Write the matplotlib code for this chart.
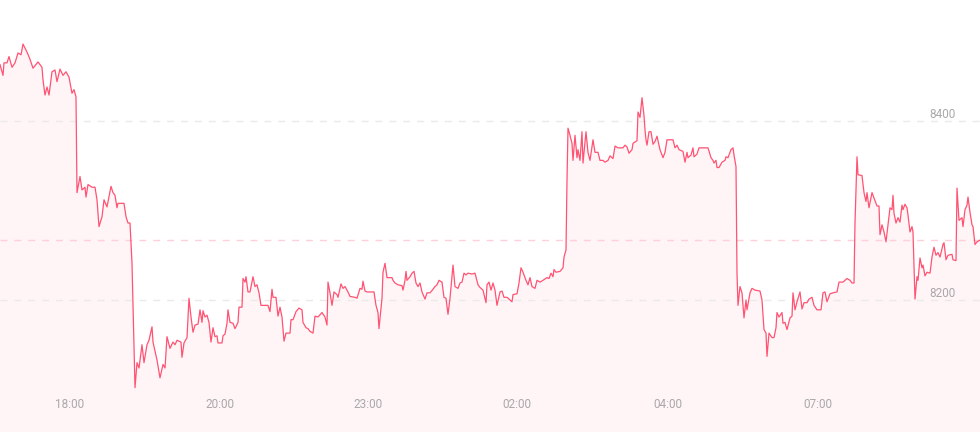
import matplotlib
matplotlib.use("Agg")
import matplotlib.pyplot as plt
from matplotlib.transforms import blended_transform_factory

# ---- data -----------------------------------------------------------------
t = [0, 3, 4, 7, 9, 12, 15, 18, 21, 23, 27, 30, 33, 38, 42, 43, 45, 47, 49, 52,
     55, 57, 60, 63, 66, 69, 72, 74, 76, 77, 80, 82, 85, 86, 88, 92, 95, 97, 99, 102,
     104, 107, 111, 113, 115, 117, 118, 124, 126, 128, 130, 132, 135, 137, 139, 142, 144, 147, 149, 152,
     153, 157, 160, 163, 165, 167, 170, 173, 175, 177, 181, 182, 184, 187, 189, 191, 193, 195, 198, 200,
     202, 203, 205, 207, 209, 211, 213, 215, 217, 218, 222, 223, 225, 227, 228, 230, 233, 235, 238, 239,
     242, 243, 245, 246, 248, 250, 253, 255, 257, 259, 261, 267, 268, 270, 272, 273, 276, 278, 280, 282,
     284, 286, 290, 291, 293, 296, 299, 302, 303, 306, 308, 310, 313, 315, 318, 322, 325, 327, 328, 330,
     332, 334, 337, 338, 341, 343, 345, 348, 350, 355, 357, 360, 362, 363, 365, 367, 374, 376, 378, 379,
     382, 383, 385, 387, 392, 393, 395, 398, 402, 403, 405, 406, 407, 410, 412, 414, 416, 418, 420, 422,
     425, 427, 430, 433, 435, 437, 439, 442, 444, 446, 448, 450, 452, 453, 455, 458, 460, 462, 464, 466,
     468, 472, 475, 478, 480, 483, 486, 487, 489, 491, 493, 495, 497, 500, 502, 504, 507, 510, 512, 513,
     517, 519, 521, 523, 526, 528, 530, 532, 535, 537, 540, 543, 547, 549, 551, 553, 554, 556, 560, 563,
     564, 566, 567, 568, 570, 572, 573, 575, 577, 578, 580, 582, 583, 586, 588, 590, 593, 595, 598, 600,
     603, 605, 608, 610, 613, 615, 618, 623, 625, 627, 629, 632, 633, 637, 638, 640, 642, 644, 645, 646,
     647, 649, 651, 653, 655, 657, 660, 663, 665, 667, 673, 675, 677, 679, 683, 685, 687, 688, 691, 693,
     694, 697, 699, 708, 711, 713, 714, 716, 717, 719, 722, 725, 726, 728, 731, 733, 734, 736, 737, 738,
     740, 742, 744, 746, 747, 750, 752, 755, 760, 762, 764, 766, 767, 769, 772, 774, 776, 777, 779, 782,
     783, 785, 787, 790, 792, 793, 795, 797, 800, 802, 804, 807, 809, 812, 814, 817, 821, 823, 825, 827,
     830, 833, 837, 839, 843, 847, 850, 852, 854, 855, 857, 858, 862, 864, 866, 867, 869, 872, 874, 877,
     879, 880, 882, 884, 886, 888, 890, 892, 893, 894, 896, 898, 900, 902, 903, 905, 907, 908, 910, 912,
     913, 915, 917, 918, 920, 922, 923, 925, 927, 930, 932, 934, 936, 938, 940, 943, 944, 946, 948, 952,
     953, 956, 957, 959, 962, 963, 965, 967, 968, 970, 972, 973, 975, 977, 980]

price = [8463, 8451, 8465, 8465, 8472, 8460, 8465, 8476, 8474, 8486, 8477, 8469, 8459, 8466, 8460, 8446, 8429, 8438, 8429, 8455,
         8457, 8444, 8458, 8451, 8455, 8449, 8431, 8435, 8427, 8320, 8338, 8323, 8326, 8315, 8329, 8326, 8326, 8312, 8282, 8293,
         8312, 8304, 8327, 8320, 8317, 8303, 8308, 8308, 8293, 8286, 8286, 8241, 8102, 8130, 8124, 8150, 8130, 8150, 8155, 8170,
         8153, 8133, 8113, 8128, 8124, 8159, 8146, 8153, 8150, 8155, 8153, 8136, 8152, 8158, 8202, 8181, 8164, 8172, 8173, 8189,
         8175, 8188, 8181, 8183, 8175, 8153, 8169, 8159, 8160, 8152, 8152, 8160, 8162, 8174, 8189, 8175, 8174, 8168, 8175, 8192,
         8192, 8224, 8220, 8226, 8209, 8209, 8226, 8215, 8217, 8208, 8194, 8194, 8194, 8187, 8212, 8203, 8203, 8182, 8192, 8181,
         8154, 8163, 8163, 8178, 8178, 8187, 8191, 8189, 8175, 8169, 8168, 8165, 8163, 8182, 8181, 8186, 8181, 8172, 8220, 8208,
         8194, 8209, 8206, 8203, 8218, 8213, 8215, 8209, 8204, 8203, 8202, 8213, 8212, 8221, 8210, 8209, 8209, 8194, 8186, 8168,
         8202, 8231, 8241, 8225, 8225, 8222, 8219, 8217, 8216, 8211, 8222, 8232, 8222, 8226, 8230, 8232, 8219, 8215, 8219, 8209,
         8201, 8208, 8208, 8212, 8215, 8217, 8222, 8220, 8203, 8202, 8184, 8202, 8226, 8239, 8215, 8213, 8219, 8220, 8230, 8228,
         8230, 8229, 8230, 8217, 8214, 8211, 8197, 8217, 8220, 8211, 8219, 8211, 8194, 8209, 8210, 8203, 8203, 8200, 8198, 8206,
         8207, 8219, 8236, 8231, 8222, 8217, 8225, 8215, 8213, 8222, 8220, 8222, 8225, 8224, 8230, 8226, 8234, 8231, 8232, 8236,
         8248, 8256, 8334, 8392, 8384, 8375, 8356, 8384, 8359, 8368, 8356, 8388, 8353, 8388, 8365, 8356, 8379, 8365, 8365, 8356,
         8356, 8354, 8356, 8361, 8358, 8372, 8370, 8370, 8373, 8371, 8364, 8368, 8375, 8378, 8410, 8404, 8426, 8406, 8390, 8379,
         8373, 8388, 8388, 8374, 8377, 8383, 8368, 8359, 8365, 8379, 8379, 8370, 8373, 8368, 8366, 8354, 8365, 8359, 8362, 8370,
         8360, 8363, 8370, 8370, 8359, 8356, 8353, 8356, 8348, 8348, 8354, 8356, 8360, 8359, 8368, 8370, 8362, 8349, 8230, 8194,
         8215, 8208, 8180, 8200, 8189, 8208, 8213, 8211, 8210, 8200, 8167, 8163, 8137, 8163, 8158, 8158, 8169, 8186, 8181, 8186,
         8174, 8175, 8167, 8180, 8182, 8208, 8189, 8198, 8209, 8190, 8197, 8197, 8201, 8203, 8194, 8189, 8189, 8208, 8209, 8198,
         8207, 8208, 8209, 8220, 8220, 8224, 8222, 8219, 8219, 8286, 8360, 8340, 8339, 8320, 8310, 8320, 8303, 8320, 8314, 8305,
         8305, 8273, 8284, 8276, 8265, 8284, 8303, 8301, 8317, 8297, 8286, 8292, 8287, 8306, 8301, 8307, 8303, 8295, 8276, 8282,
         8276, 8201, 8226, 8222, 8247, 8236, 8239, 8227, 8231, 8230, 8248, 8259, 8250, 8253, 8248, 8262, 8264, 8245, 8250, 8251,
         8245, 8244, 8325, 8289, 8292, 8282, 8301, 8306, 8315, 8298, 8284, 8282, 8262, 8265, 8267]

prev_close = 8267
y_ticks = [8200, 8400]
x_tick_pos = [70, 220, 368, 517, 668, 818]
x_tick_labels = ["18:00", "20:00", "23:00", "02:00", "04:00", "07:00"]

# ---- style ----------------------------------------------------------------
LINE = "#FF5373"
FILL = "#FFF4F6"
GRID = "#EAEAEA"
REF = "#FFD0D9"
TICK = "#A9A9A9"

plt.rcParams["font.family"] = ["Roboto", "DejaVu Sans"]

fig = plt.figure(figsize=(9.8, 4.32), dpi=100)
ax = fig.add_axes([0, 0, 1, 1])
ax.set_xlim(0, 980)
ax.set_ylim(8052.5, 8535.2)
for s in ax.spines.values():
    s.set_visible(False)
ax.set_xticks([])
ax.set_yticks([])

ax.fill_between(t, price, 8052.5, color=FILL, lw=0, zorder=1)

# dashed guides sit on top of the fill, under the line
for v in y_ticks:
    ax.axhline(v, color=GRID, lw=1.0, ls=(0, (5, 5)), zorder=2)
ax.axhline(prev_close, color=REF, lw=1.0, ls=(0, (5, 5)), zorder=2)

ax.plot(t, price, color=LINE, lw=0.9, zorder=3)

for v in y_ticks:
    ax.annotate(str(v), xy=(0.975, v), xycoords=("axes fraction", "data"),
                xytext=(0, 6), textcoords="offset pixels",
                ha="right", va="center", fontsize=8.5, color=TICK, zorder=4)

trans = blended_transform_factory(ax.transData, ax.transAxes)
for x, lab in zip(x_tick_pos, x_tick_labels):
    ax.text(x, 1 - 404 / 432, lab, transform=trans, ha="center", va="center",
            fontsize=8.5, color=TICK)

fig.savefig("out.png", dpi=100)
